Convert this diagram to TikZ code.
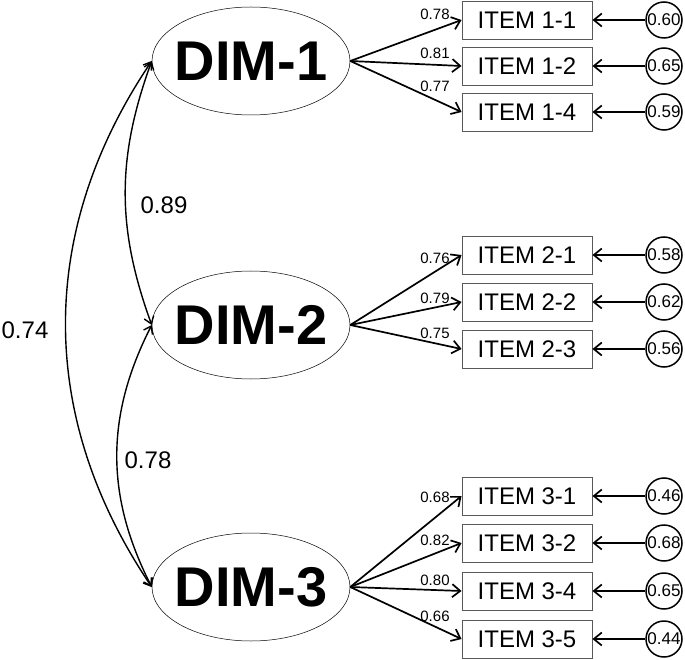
\documentclass[tikz,border=0pt]{standalone}
\usepackage{fontspec}
\setmainfont{Liberation Sans}
\usetikzlibrary{arrows.meta, shapes.geometric}

\begin{document}
\begin{tikzpicture}[x=1pt,y=-1pt,
  latent/.style={draw, ellipse, line width=0.5pt, minimum width=198pt,
    minimum height=108pt, inner xsep=-12pt, inner ysep=0pt,
    font=\fontsize{56}{56}\selectfont\bfseries},
  itembox/.style={draw=black!65, line width=0.9pt, minimum width=130pt,
    minimum height=38pt, inner sep=0pt, font=\fontsize{24}{24}\selectfont},
  errcirc/.style={draw, circle, line width=1.5pt, minimum size=36pt,
    inner sep=0pt, font=\fontsize{17}{17}\selectfont},
  loadlabel/.style={font=\fontsize{15}{15}\selectfont},
  corrlabel/.style={font=\fontsize{24}{24}\selectfont},
  onehead/.style={line width=1.7pt, -{Straight Barb[length=8pt,width=13pt]}},
  twohead/.style={line width=1.4pt,
    {Straight Barb[length=7pt,width=10pt]}-{Straight Barb[length=7pt,width=10pt]}}]

\useasboundingbox (0,0) rectangle (685,660);

% latent factors
\node[latent] (dim1) at (251,61) {DIM-1};
\node[latent] (dim2) at (251,325) {DIM-2};
\node[latent] (dim3) at (251,587) {DIM-3};

% items, errors and loadings
\foreach \dim/\id/\y/\ld/\ly/\err in {
  1/1-1/20/0.78/14/0.60,
  1/1-2/66/0.81/53/0.65,
  1/1-4/112/0.77/86/0.59,
  2/2-1/255/0.76/258/0.58,
  2/2-2/302/0.79/298/0.62,
  2/2-3/349/0.75/333/0.56,
  3/3-1/496/0.68/497/0.46,
  3/3-2/543/0.82/540/0.68,
  3/3-4/591/0.80/580/0.65,
  3/3-5/639/0.66/616/0.44} {
  \node[itembox] (item\id) at (527,\y) {ITEM \id};
  \node[errcirc] (err\id) at (664,\y) {\err};
  \draw[onehead] (err\id) -- (item\id);
  \draw[onehead] (dim\dim.east) -- (item\id.west);
  \node[loadlabel] at (435,\ly) {\ld};
}

% correlations
\draw[twohead] (dim1.west) to[bend right=20] (dim2.west);
\draw[twohead] (dim2.west) to[bend right=27] (dim3.west);
\draw[twohead] (dim1.west) to[bend right=34] (dim3.west);

\node[corrlabel] at (164,205) {0.89};
\node[corrlabel] at (148,460) {0.78};
\node[corrlabel] at (25,330) {0.74};
\end{tikzpicture}
\end{document}
